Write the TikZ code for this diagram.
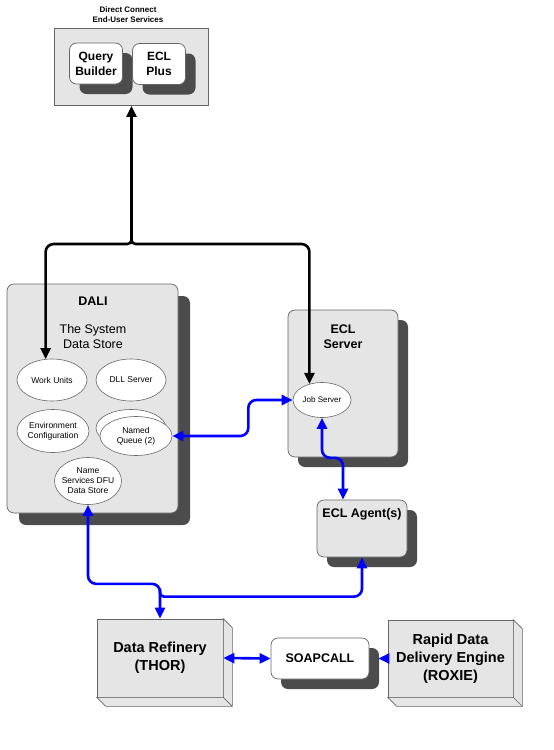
\documentclass[tikz,border=0pt]{standalone}
\usepackage{fontspec}
\setmainfont{Liberation Sans}
\usetikzlibrary{shapes.geometric,shadows,arrows.meta}
\begin{document}
\begin{tikzpicture}[x=1pt,y=-1pt,
  >={Triangle[length=11pt,width=10pt]},
  box/.style={draw=black!60, fill=black!10, line width=0.7pt, rounded corners=7pt, inner sep=0pt},
  shad/.style={general shadow={fill=black!70, shadow xshift=#1, shadow yshift=-#1}},
  card/.style={box, fill=white, align=center, font=\bfseries\fontsize{12}{15}\selectfont},
  block/.style={draw=black!60, fill=black!10, line width=0.7pt, align=center, font=\bfseries\fontsize{14.5}{18}\selectfont},
  bevel/.style={draw=black!60, fill=black!10, line width=0.7pt},
  title/.style={align=center, font=\bfseries\fontsize{12.5}{15}\selectfont},
  oval/.style={ellipse, draw=black!60, fill=white, line width=0.6pt, align=center, inner xsep=-8pt, inner ysep=0pt, font=\fontsize{8.5}{10}\selectfont},
  blk/.style={line width=2.6pt, black, rounded corners=8pt},
  blu/.style={line width=2.6pt, blue, rounded corners=8pt}]
\useasboundingbox (0,0) rectangle (554,750);

\node[font=\bfseries\fontsize{8}{10}\selectfont, align=center] (dctitle) at (128,15) {Direct Connect\\End-User Services};
\node[box, rounded corners=0pt, minimum width=154, minimum height=77] (dc) at (131,67) {};
\node[card, shad=10pt, minimum width=53, minimum height=41] (qb) at (96,63.5) {Query\\Builder};
\node[card, shad=10pt, minimum width=53, minimum height=41] (eclplus) at (159,64) {ECL\\Plus};

\node[box, shad=12pt, minimum width=171, minimum height=229] (dali) at (92.5,398.5) {};
\node[title] (dalititle) at (93,301) {DALI};
\node[align=center, font=\fontsize{12.5}{15}\selectfont] (dalisub) at (93,337) {The System\\Data Store};
\node[oval, minimum width=70, minimum height=42] (wu) at (52,380) {Work Units};
\node[oval, minimum width=70, minimum height=42] (dll) at (131,380) {DLL Server};
\node[oval, minimum width=72, minimum height=43] (env) at (53,431) {Environment\\Configuration};
\node[oval, minimum width=70, minimum height=37] (nqback) at (131,428) {};
\node[oval, minimum width=72, minimum height=39] (nq) at (136,436) {Named\\Queue (2)};
\node[oval, minimum width=67, minimum height=47] (dfu) at (88,481) {Name\\Services DFU\\Data Store};

\node[box, shad=10pt, minimum width=110, minimum height=147] (ecls) at (343,383.5) {};
\node[title] (eclstitle) at (343,337) {ECL\\Server};
\node[oval, minimum width=58, minimum height=35, font=\fontsize{8}{10}\selectfont] (js) at (322,400) {Job Server};

\node[box, shad=10pt, minimum width=90, minimum height=57] (agent) at (362,528.5) {};
\node[title] (agenttitle) at (362,514) {ECL Agent(s)};

\node[block, minimum width=126, minimum height=78] (thor) at (160,658) {Data Refinery\\(THOR)};
\node[block, minimum width=125, minimum height=77] (roxie) at (450.5,658.5) {Rapid Data\\Delivery Engine\\(ROXIE)};
\foreach \n in {thor,roxie} {
  \filldraw[bevel] (\n.north east) -- ++(9,9) -- ([shift={(9,9)}]\n.south east) -- ([shift={(9,9)}]\n.south west) -- (\n.south west) -- (\n.south east) -- cycle;
  \draw[bevel] (\n.south east) -- ++(9,9);
}
\node[card, shad=10pt, minimum width=98, minimum height=41, font=\bfseries\fontsize{12.5}{15}\selectfont] (soap) at (320,658.5) {SOAPCALL};

\coordinate (fork) at (131.5,244);
\draw[blk,->] (fork) -- (fork |- dc.south);
\draw[blk,->] ([yshift=8pt]fork) [rounded corners=4pt] -- (fork) [rounded corners=8pt] -| (wu.107);
\draw[blk,->] ([yshift=8pt]fork) [rounded corners=4pt] -- (fork) [rounded corners=8pt] -| (js.128);

\coordinate (tee) at ([yshift=22pt]thor.north);
\draw[blu,<->] (nq.east) -- ++(76,0) |- (js.west);
\draw[blu,<->] (js.south) -- ++(0,40) -| ([xshift=-19pt]agent.north);
\draw[blu,<->] (dfu.south) -- ++(0,79) -| (thor.north);
\draw[blu,->] ([yshift=8pt]tee) [rounded corners=4pt] -- (tee) [rounded corners=8pt] -| (agent.south);
\draw[blu,<->] (thor.east) -- (soap.west);
\draw[blu,->,shorten >=9pt] (roxie.west) -- (soap.east);
\end{tikzpicture}
\end{document}
